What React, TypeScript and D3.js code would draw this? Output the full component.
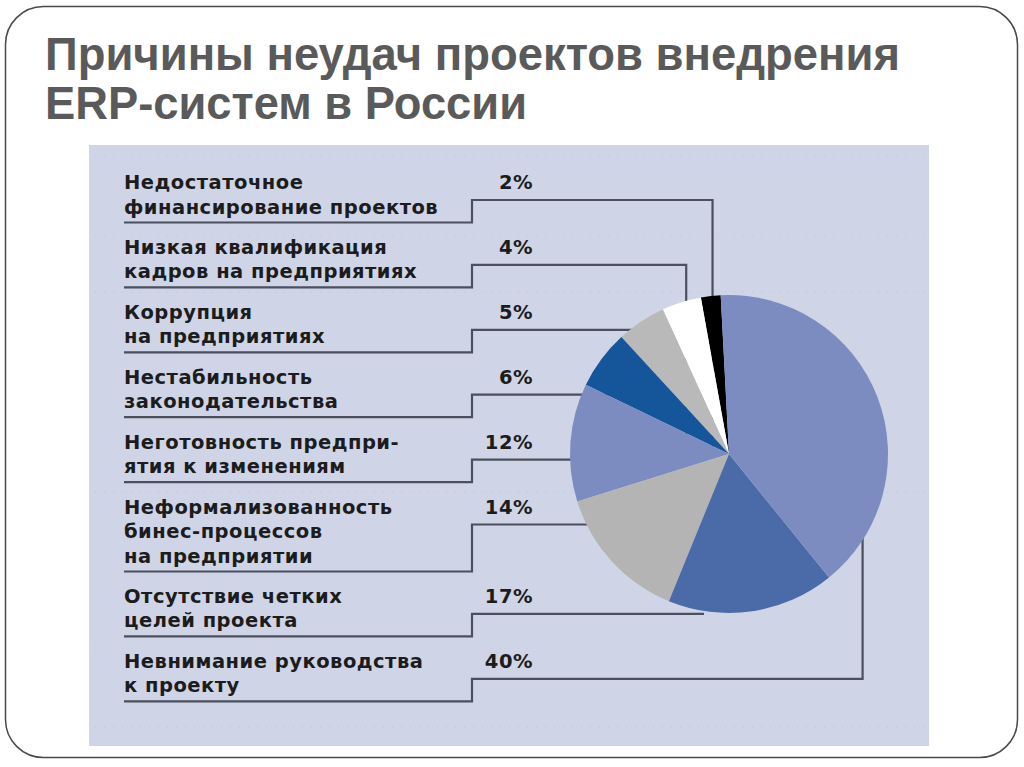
import React, { useEffect, useRef } from "react";
import * as d3 from "d3";

const titleLines = ["Причины неудач проектов внедрения", "ERP-систем в России"];

const reasons = [
  ["Недостаточное", "финансирование проектов"],
  ["Низкая квалификация", "кадров на предприятиях"],
  ["Коррупция", "на предприятиях"],
  ["Нестабильность", "законодательства"],
  ["Неготовность предпри-", "ятия к изменениям"],
  ["Неформализованность", "бинес-процессов", "на предприятии"],
  ["Отсутствие четких", "целей проекта"],
  ["Невнимание руководства", "к проекту"],
];
const shares = [2, 4, 5, 6, 12, 14, 17, 40];
const sliceColors = ["#000000", "#ffffff", "#b9b9b9", "#15559a", "#7c8cc0", "#b4b4b4", "#4a6aa8", "#7c8cc0"];

const W = 1024;
const H = 767;

const App = () => {
  const ref = useRef<SVGSVGElement>(null);

  useEffect(() => {
    document.body.style.margin = "0";
    draw();
  }, []);

  const draw = () => {
    const svg = d3.select(ref.current);
    svg.selectAll("*").remove();

    // slide frame
    svg
      .append("rect")
      .attr("x", 5.5)
      .attr("y", 6.5)
      .attr("width", 1012)
      .attr("height", 751)
      .attr("rx", 38)
      .attr("fill", "#ffffff")
      .attr("stroke", "#4a4a4a")
      .attr("stroke-width", 1.5);

    const title = svg
      .append("g")
      .attr("font-family", "'Liberation Sans Narrow', 'Arial Narrow', 'Liberation Sans', sans-serif")
      .attr("font-weight", "bold")
      .attr("font-size", 46)
      .attr("fill", "#5a5a5a");
    title
      .selectAll("text")
      .data(titleLines)
      .join("text")
      .attr("x", 45)
      .attr("y", (d, i) => 70 + i * 49)
      .attr("textLength", (d, i) => (i === 0 ? 855 : 482))
      .attr("lengthAdjust", "spacingAndGlyphs")
      .text((d) => d);

    // chart panel
    const panel = { x: 89, y: 145, w: 840, h: 601 };
    svg
      .append("rect")
      .attr("x", panel.x)
      .attr("y", panel.y)
      .attr("width", panel.w)
      .attr("height", panel.h)
      .attr("fill", "#cfd5e7");

    // faint dotted guides in the panel background
    svg
      .append("g")
      .attr("stroke", "#bcc3d6")
      .attr("stroke-dasharray", "1 8")
      .selectAll("line")
      .data([157, 235, 292, 492, 648, 727])
      .join("line")
      .attr("x1", panel.x + 6)
      .attr("x2", panel.x + panel.w - 4)
      .attr("y1", (d) => d)
      .attr("y2", (d) => d);

    // row layout
    const lineH = 24.5;
    const textX = 124;
    const stepX = 472;
    const pctX = 533;
    let base = 189;
    const rows = reasons.map((lines, i) => {
      const b1 = base;
      const underline = b1 + (lines.length - 1) * lineH + 9;
      const step = b1 + 11;
      base = underline + 31.4;
      return { lines, b1, underline, step, share: shares[i], color: sliceColors[i] };
    });

    // pie
    const cx = 729;
    const cy = 454;
    const r = 159;
    const offset = (-3 * Math.PI) / 180;
    const pieData = d3
      .pie<(typeof rows)[number]>()
      .sort(null)
      .value((d) => d.share)
      .startAngle(offset)
      .endAngle(offset - 2 * Math.PI)(rows);
    const arc = d3.arc<d3.PieArcDatum<(typeof rows)[number]>>().innerRadius(0).outerRadius(r);

    // connectors (drawn under the pie)
    const conn = svg.append("g").attr("fill", "none").attr("stroke", "#4b4f5e").attr("stroke-width", 2.2);
    rows.forEach((row, i) => {
      const p = pieData[i];
      const mid = (p.startAngle + p.endAngle) / 2;
      const dy = row.step - cy;
      const head: [number, number][] = [
        [textX, row.underline],
        [stepX, row.underline],
        [stepX, row.step],
      ];
      let path: [number, number][];
      if (Math.abs(dy) <= r + 2) {
        const edge = cx - Math.sqrt(Math.max(0, r * r - dy * dy));
        path = [...head, [Math.min(edge + 30, cx - 25), row.step]];
      } else {
        const ex = cx + 0.9 * r * Math.sin(mid);
        path = [...head, [ex, row.step], [ex, cy]];
      }
      conn.append("path").attr("d", d3.line()(path));
    });

    svg
      .append("g")
      .attr("transform", `translate(${cx},${cy})`)
      .selectAll("path")
      .data(pieData)
      .join("path")
      .attr("d", arc)
      .attr("fill", (d) => d.data.color);

    const labels = svg
      .append("g")
      .attr("font-family", "'DejaVu Sans', Verdana, sans-serif")
      .attr("font-weight", "bold")
      .attr("font-size", 19.5)
      .attr("letter-spacing", 0.5)
      .attr("fill", "#1c1c1c");
    rows.forEach((row) => {
      row.lines.forEach((line, j) => {
        labels
          .append("text")
          .attr("x", textX)
          .attr("y", row.b1 + j * lineH)
          .text(line);
      });
      labels
        .append("text")
        .attr("x", pctX)
        .attr("y", row.b1)
        .attr("text-anchor", "end")
        .text(`${row.share}%`);
    });
  };

  return <svg ref={ref} width={W} height={H} style={{ display: "block" }} />;
};

export default App;
